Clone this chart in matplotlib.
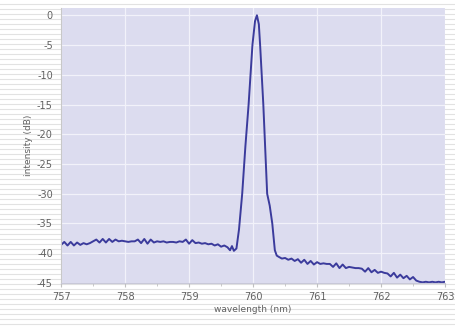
import matplotlib.pyplot as plt
from matplotlib.ticker import MultipleLocator

plt.rcParams["axes.unicode_minus"] = False

# Spectrum (nm, dB)
wavelength = [
    757.00, 757.05, 757.10, 757.15, 757.20, 757.25, 757.30, 757.35, 757.40, 757.45,
    757.50, 757.55, 757.60, 757.65, 757.70, 757.75, 757.80, 757.85, 757.90, 757.95,
    758.00, 758.05, 758.10, 758.15, 758.20, 758.25, 758.30, 758.35, 758.40, 758.45,
    758.50, 758.55, 758.60, 758.65, 758.70, 758.75, 758.80, 758.85, 758.90, 758.95,
    759.00, 759.05, 759.10, 759.15, 759.20, 759.25, 759.30, 759.35, 759.40, 759.45,
    759.50, 759.55, 759.60, 759.64, 759.67, 759.70, 759.74, 759.78, 759.83, 759.88,
    759.93, 759.99, 760.03, 760.06, 760.09, 760.11, 760.16, 760.20, 760.22, 760.26,
    760.30, 760.34, 760.37, 760.40, 760.45, 760.50, 760.55, 760.60, 760.65, 760.70,
    760.75, 760.80, 760.85, 760.90, 760.95, 761.00, 761.05, 761.10, 761.15, 761.20,
    761.25, 761.30, 761.35, 761.40, 761.45, 761.50, 761.55, 761.60, 761.65, 761.70,
    761.75, 761.80, 761.85, 761.90, 761.95, 762.00, 762.05, 762.10, 762.15, 762.20,
    762.25, 762.30, 762.35, 762.40, 762.45, 762.50, 762.55, 762.60, 762.65, 762.70,
    762.75, 762.80, 762.85, 762.90, 762.95, 763.00,
]
intensity = [
    -38.6, -38.1, -38.7, -38.1, -38.7, -38.2, -38.6, -38.3, -38.5, -38.3,
    -38.0, -37.7, -38.2, -37.6, -38.2, -37.6, -38.1, -37.7, -38.0, -37.9,
    -38.0, -38.1, -38.0, -38.0, -37.7, -38.3, -37.6, -38.4, -37.7, -38.2,
    -38.0, -38.1, -38.0, -38.2, -38.1, -38.1, -38.2, -38.0, -38.1, -37.7,
    -38.4, -37.8, -38.3, -38.2, -38.4, -38.3, -38.5, -38.4, -38.7, -38.5,
    -38.9, -38.7, -39.0, -39.5, -38.8, -39.6, -39.2, -36.0, -30.0, -22.0,
    -15.0, -5.0, -1.0, 0.0, -1.5, -5.0, -15.0, -25.0, -30.0, -32.0,
    -35.0, -39.5, -40.4, -40.6, -40.9, -40.8, -41.1, -40.9, -41.3, -41.0,
    -41.6, -41.1, -41.8, -41.3, -41.9, -41.5, -41.8, -41.7, -41.8, -41.8,
    -42.3, -41.7, -42.5, -41.9, -42.5, -42.3, -42.4, -42.5, -42.5, -42.6,
    -43.1, -42.5, -43.2, -42.8, -43.3, -43.1, -43.3, -43.4, -43.9, -43.3,
    -44.1, -43.6, -44.2, -43.8, -44.4, -44.0, -44.6, -44.8, -44.9, -44.8,
    -44.9, -44.8, -44.9, -44.8, -44.9, -44.8,
]

fig = plt.figure(figsize=(4.56, 3.26), dpi=100)

# faint ruled background of the scanned page
bg = fig.add_axes([0, 0, 1, 1], zorder=-1)
bg.set_xlim(0, 1)
bg.set_ylim(0, 326)
for yy in range(2, 326, 5):
    bg.axhline(yy, color="#e2e2e2", lw=0.8)
bg.axis("off")

ax = fig.add_axes([0.134, 0.132, 0.842, 0.843])
ax.set_facecolor("#dcdcef")
ax.plot(wavelength, intensity, color="#3b3b9c", lw=1.4)

ax.set_xlim(757, 763)
ax.set_ylim(-45, 1.2)
ax.xaxis.set_major_locator(MultipleLocator(1))
ax.xaxis.set_minor_locator(MultipleLocator(0.5))
ax.yaxis.set_major_locator(MultipleLocator(5))
ax.grid(which="major", color="#f2f2fa", lw=0.9)
ax.set_axisbelow(True)

for side in ["top", "right"]:
    ax.spines[side].set_visible(False)
ax.spines["left"].set_color("#c8c8c8")
ax.spines["bottom"].set_color("#c8c8d8")

ax.tick_params(which="both", colors="#c0c0c0", labelcolor="#606060", labelsize=7)
ax.tick_params(which="major", length=3)
ax.tick_params(which="minor", length=2)
ax.tick_params(axis="y", length=0, pad=6)
ax.set_xlabel("wavelength (nm)", fontsize=6.5, color="#606060", labelpad=2)
ax.set_ylabel("intensity (dB)", fontsize=6.5, color="#606060", labelpad=3)

fig.savefig("out.png", dpi=100)
